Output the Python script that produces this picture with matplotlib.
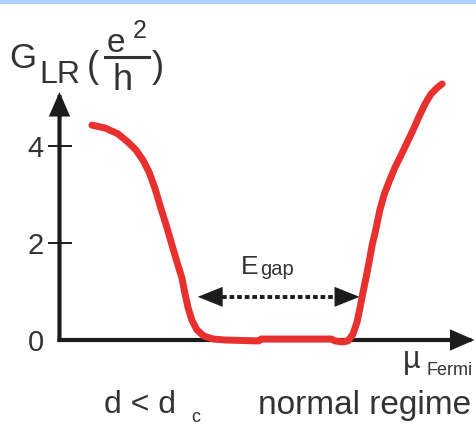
import matplotlib
matplotlib.use("Agg")
import matplotlib.pyplot as plt
from matplotlib.patches import Rectangle

# Conductance G_LR versus Fermi level (arbitrary units)
mu = [0.78, 1.10, 1.41, 1.65, 1.84, 2.01, 2.16, 2.30, 2.42, 2.57, 2.71, 2.83,
      2.95, 3.02, 3.10, 3.19, 3.31, 3.48, 3.70, 3.99, 4.80, 4.86, 6.55, 6.64,
      6.81, 6.95, 7.07, 7.17, 7.24, 7.31, 7.39, 7.46, 7.53, 7.63, 7.72, 7.82,
      7.94, 8.08, 8.23, 8.37, 8.52, 8.66, 8.81, 8.95, 9.10, 9.22]
g_lr = [4.43, 4.37, 4.25, 4.08, 3.92, 3.71, 3.46, 3.13, 2.78, 2.37, 1.96, 1.61,
        1.28, 0.97, 0.66, 0.41, 0.21, 0.08, 0.02, 0.00, -0.02, 0.02, 0.02, -0.02,
        -0.04, -0.02, 0.12, 0.37, 0.66, 0.97, 1.30, 1.61, 1.94, 2.31, 2.68, 2.99,
        3.26, 3.55, 3.81, 4.06, 4.33, 4.60, 4.87, 5.07, 5.20, 5.28]
y_ticks = [0, 2, 4]
y_tick_labels = ["0", "2", "4"]
gap_edges = [3.33, 7.23]
gap_level = 0.89

W, H = 476, 425
fig = plt.figure(figsize=(W / 100, H / 100), dpi=100)
fig.patch.set_facecolor("white")

# light blue band along the top edge
fig.patches.append(Rectangle((0, (H - 4) / H), 1, 4 / H, transform=fig.transFigure,
                             facecolor="#a9d1f9", edgecolor="none", zorder=0))

ax = fig.add_axes([59.5 / W, (H - 340) / H, 415 / W, 248 / H])
ax.set_xlim(0, 10)
ax.set_ylim(0, 248 / 48.5)
ax.patch.set_alpha(0)
for s in ax.spines.values():
    s.set_visible(False)

axis_col = "#1c1c1c"
text_col = "#333333"
font = "Liberation Sans"

# axes drawn as arrows
arrow_style = "-|>,head_length=0.62,head_width=0.27"
for xy in [(0, 1), (1, 0)]:
    ax.annotate("", xy=xy, xytext=(0, 0), xycoords="axes fraction",
                textcoords="axes fraction",
                arrowprops=dict(arrowstyle=arrow_style, mutation_scale=20,
                                lw=3, color=axis_col, shrinkA=0, shrinkB=0,
                                joinstyle="miter", capstyle="projecting"),
                annotation_clip=False)

ax.set_xticks([])
ax.set_yticks(y_ticks)
ax.set_yticklabels(y_tick_labels, fontfamily=font, fontsize=21, color=text_col)
ax.tick_params(axis="y", direction="inout", length=17, width=1.4,
               color=axis_col, pad=3)
ax.yaxis.get_major_ticks()[0].tick1line.set_visible(False)

# conductance curve
ax.plot(mu, g_lr, color="#e8302e", lw=5, solid_capstyle="round",
        solid_joinstyle="round", clip_on=False, zorder=5)

# gap arrow: dotted shaft with two solid heads
head = 0.58
ax.plot([gap_edges[0] + head, gap_edges[1] - head], [gap_level, gap_level],
        color=axis_col, lw=2.8, dashes=(1.2, 0.75), solid_capstyle="butt",
        zorder=4)
for x0, x1 in [(gap_edges[0] + head, gap_edges[0]), (gap_edges[1] - head, gap_edges[1])]:
    ax.annotate("", xy=(x1, gap_level), xytext=(x0, gap_level),
                arrowprops=dict(arrowstyle="-|>,head_length=0.9,head_width=0.36",
                                mutation_scale=20, lw=0, color=axis_col,
                                shrinkA=0, shrinkB=0))
ax.text(4.80, gap_level + 0.47, "E", fontfamily=font, fontsize=19, color=text_col,
        ha="right", va="baseline")
ax.text(4.83, gap_level + 0.44, "gap", fontfamily=font, fontsize=14.5, color=text_col,
        ha="left", va="baseline")

# axis labels
def ftext(px, py, s, size, **kw):
    fig.text(px / W, 1 - py / H, s, fontfamily=font, fontsize=size,
             color=text_col, va="baseline", **kw)

ftext(9, 68, "G", 25)
ftext(39, 83, "LR", 23)
ftext(87, 77, "(", 26)
ftext(116, 52, "e", 24, ha="center")
ftext(133, 38, "2", 18)
fig.add_artist(plt.Line2D([105 / W, 149 / W], [1 - 57 / H, 1 - 57 / H],
                          color=text_col, lw=2.2))
ftext(123, 90, "h", 26, ha="center")
ftext(152, 77, ")", 26)

ftext(403, 368, "\u00b5", 22)
ftext(426, 375, "Fermi", 13)

ftext(104, 413, "d < d", 23)
ftext(191, 422, "c", 13)
ftext(258, 414, "normal regime", 24)

fig.savefig("out.png", dpi=100)
